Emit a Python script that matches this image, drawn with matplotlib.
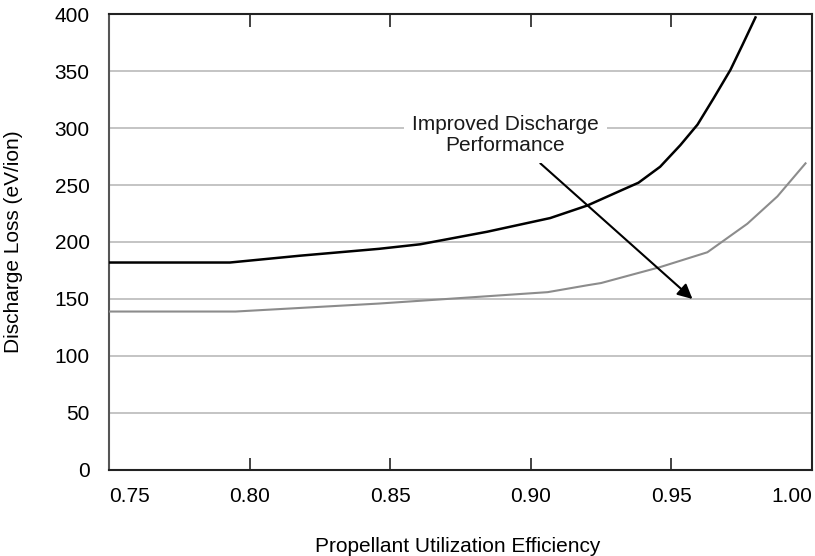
import matplotlib.pyplot as plt

plt.rcParams['font.family'] = ['Liberation Sans', 'DejaVu Sans']

# upper (baseline) curve
base_x = [0.750, 0.793, 0.818, 0.846, 0.8607, 0.8845, 0.9069, 0.9201, 0.9319, 0.9383,
          0.946, 0.9532, 0.9593, 0.965, 0.971, 0.9753, 0.9799]
base_y = [182, 182, 188, 194, 198, 209, 221, 232, 245, 252,
          266, 285, 303, 326, 351, 373, 397]

# lower (improved) curve
impr_x = [0.750, 0.795, 0.846, 0.906, 0.920, 0.925, 0.946, 0.9628, 0.977, 0.9877, 0.9977]
impr_y = [139, 139, 146, 156, 162, 164, 178, 191, 216, 240, 269]

x_ticks = [0.75, 0.80, 0.85, 0.90, 0.95, 1.00]
x_labels = ['0.75', '0.80', '0.85', '0.90', '0.95', '1.00']
y_ticks = [0, 50, 100, 150, 200, 250, 300, 350, 400]

arrow_from = (0.9034, 269)
arrow_to = (0.9575, 150)
note_pos = (0.891, 294)
note_text = "Improved Discharge\nPerformance"

fig = plt.figure(figsize=(8.15, 5.56), dpi=100)
ax = fig.add_axes([0.1337, 0.1547, 0.8626, 0.8201])

for v in y_ticks[1:-1]:
    ax.axhline(v, color='#b4b4b4', lw=1.1, zorder=1)

ax.plot(base_x, base_y, color='black', lw=1.8, zorder=3)
ax.plot(impr_x, impr_y, color='#8c8c8c', lw=1.5, zorder=3)

ax.annotate('', xy=arrow_to, xytext=arrow_from,
            arrowprops=dict(arrowstyle='-|>', color='black', lw=1.5,
                            mutation_scale=22, shrinkA=0, shrinkB=0),
            zorder=4)

ax.text(note_pos[0], note_pos[1], note_text, ha='center', va='center',
        fontsize=15, color='#1a1a1a', linespacing=1.15, zorder=5,
        bbox=dict(facecolor='white', edgecolor='none', pad=6))

ax.set_xlim(0.75, 1.00)
ax.set_ylim(0, 400)
ax.set_xticks(x_ticks)
ax.set_xticklabels(x_labels)
ax.set_yticks(y_ticks)

ax.tick_params(axis='x', direction='in', length=9, width=1.2, top=True,
               labelsize=15, pad=12, color='#222222')
ax.tick_params(axis='y', length=0, labelsize=15, pad=14)
# edge ticks: no marks, labels pulled inside
xt = ax.xaxis.get_major_ticks()
for t in (xt[0], xt[-1]):
    t.tick1line.set_visible(False)
    t.tick2line.set_visible(False)
xt[0].label1.set_horizontalalignment('left')
xt[-1].label1.set_horizontalalignment('right')

for side in ['top', 'right', 'bottom']:
    ax.spines[side].set_color('#222222')
    ax.spines[side].set_linewidth(1.5)
ax.spines['left'].set_color('#555555')
ax.spines['left'].set_linewidth(1.5)

ax.set_xlabel('Propellant Utilization Efficiency', fontsize=15)
ax.set_ylabel('Discharge Loss (eV/ion)', fontsize=15)
ax.xaxis.set_label_coords(0.496, -0.148)
ax.yaxis.set_label_coords(-0.122, 0.5)

fig.savefig('out.png', dpi=100)
